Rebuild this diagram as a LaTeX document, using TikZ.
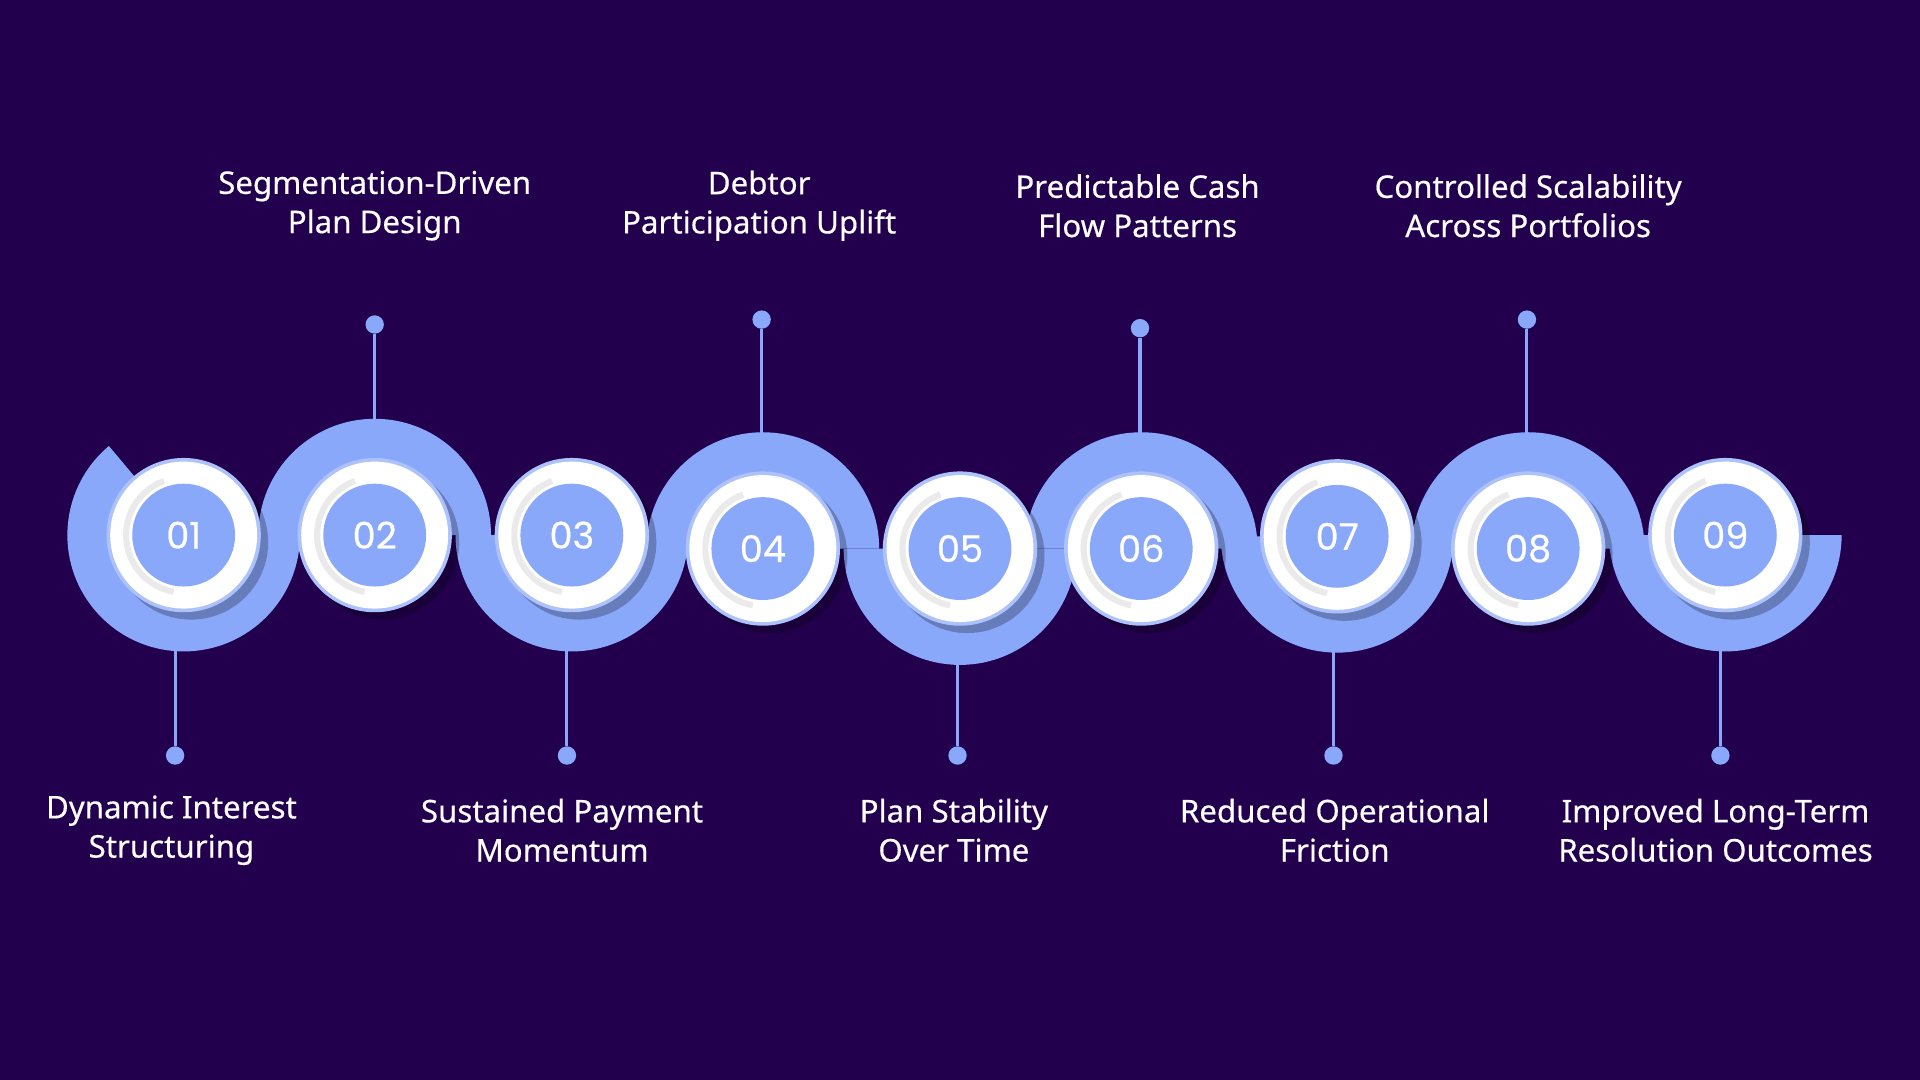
\documentclass[tikz,border=0pt]{standalone}
\usepackage{fontspec}
\setmainfont{Noto Sans}
\newfontfamily\numfont{Poppins}
\definecolor{bg}{RGB}{34,0,78}
\definecolor{blu}{RGB}{138,168,250}
\begin{document}
\begin{tikzpicture}[x=1pt,y=-1pt,
  lbl/.style={text=white,font=\fontsize{25.5}{32}\selectfont\addfontfeature{FakeBold=0.4},align=center},
  num/.style={text=white,font=\numfont\fontsize{30}{30}\selectfont\addfontfeature{FakeBold=0.6}},
  pin/.style={draw=blu,line width=2.5pt},
  dot/.style={circle,fill=blu,minimum size=15pt,inner sep=0pt}]
\fill[bg] (0,0) rectangle (1568,882);
\useasboundingbox (0,0) rectangle (1568,882);
% ribbon
\fill[blu] (150,437) ++(230:95) arc[start angle=230,end angle=0,radius=95] -- ++(-35,0) arc[start angle=0,end angle=230,radius=60] -- cycle;
\foreach \x/\y in {467/437,784/448,1092/438,1409/437}{
  \fill[blu] (\x+95,\y) arc[start angle=0,end angle=180,radius=95] -- ++(35,0) arc[start angle=180,end angle=0,radius=60] -- cycle;}
\foreach \x/\y in {306/437,623/448,932/448,1248/448}{
  \fill[blu] (\x-95,\y) arc[start angle=180,end angle=360,radius=95] -- ++(-35,0) arc[start angle=360,end angle=180,radius=60] -- cycle;}
% circles
\foreach \n/\x/\y in {01/150/437,02/306/437,03/467/437,04/623/448,05/784/448,06/932/448,07/1092/438,08/1248/448,09/1409/437}{
  \fill[black,opacity=0.25] (\x+6,\y+6) circle (63);
  \fill[blu!70!white] (\x,\y) circle (63);
  \fill[white] (\x,\y) circle (60);
  \draw[gray!40,line width=5pt,opacity=0.4] (\x,\y) ++(100:47) arc[start angle=100,end angle=250,radius=47];
  \node[circle,fill=blu,minimum size=84pt,inner sep=0pt,num] (c\n) at (\x,\y) {\n};
}
% pins top
\foreach \n/\x/\y/\t in {02/306/265/345,04/622/261/356,06/931/268/356,08/1247/261/356}{
  \node[dot] (d\n) at (\x,\y) {};
  \coordinate (e\n) at (\x,\t);
  \draw[pin] (d\n) -- (e\n);}
\foreach \n/\x/\t in {01/143/528,03/463/528,05/782/540,07/1089/530,09/1405/528}{
  \node[dot] (d\n) at (\x,617) {};
  \coordinate (e\n) at (\x,\t);
  \draw[pin] (d\n) -- (e\n);}
% labels
\node[lbl] (l02) at (306,168) {Segmentation-Driven\\Plan Design};
\node[lbl] (l04) at (620,168) {Debtor\\Participation Uplift};
\node[lbl] (l06) at (929,168) {Predictable Cash\\Flow Patterns};
\node[lbl] (l08) at (1248,168) {Controlled Scalability\\Across Portfolios};
\node[lbl] (l01) at (140,678) {Dynamic Interest\\Structuring};
\node[lbl] (l03) at (459,678) {Sustained Payment\\Momentum};
\node[lbl] (l05) at (779,678) {Plan Stability\\Over Time};
\node[lbl] (l07) at (1090,678) {Reduced Operational\\Friction};
\node[lbl] (l09) at (1401,678) {Improved Long-Term\\Resolution Outcomes};
\end{tikzpicture}
\end{document}
